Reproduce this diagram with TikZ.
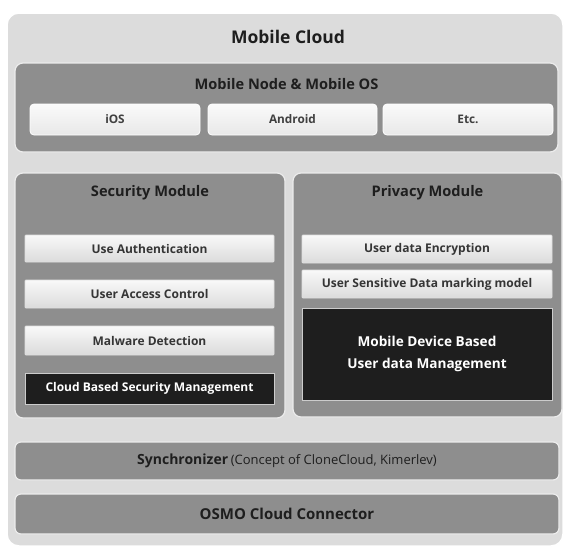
\documentclass[tikz,border=0pt]{standalone}
\usepackage{fontspec}
\setmainfont{Open Sans}
\usepackage{tikz}
\usetikzlibrary{positioning}
\definecolor{cloudgray}{HTML}{DCDCDC}
\definecolor{layergray}{HTML}{8E8E8E}
\definecolor{inkgray}{HTML}{1E1E1E}

\begin{document}
\begin{tikzpicture}[
		x=1pt, y=-1pt,
		cloud/.style={draw=white, line width=1.5pt, fill=cloudgray, rounded corners=12pt, inner sep=0pt},
		layer/.style={draw=gray!15, line width=1.2pt, fill=layergray, rounded corners=8pt, inner sep=0pt},
		osbox/.style={draw=white, line width=0.8pt, top color=gray!4, bottom color=gray!18, rounded corners=4pt,
			minimum width=170pt, minimum height=31pt, inner sep=0pt, font=\bfseries\fontsize{11.8}{13}\selectfont, text=inkgray!85},
		itembox/.style={draw=gray!25, line width=0.8pt, top color=gray!5, bottom color=gray!28, rounded corners=1pt,
			inner sep=0pt, font=\bfseries\fontsize{12}{14}\selectfont, text=inkgray!90},
		darkbox/.style={draw=gray!40, line width=0.8pt, fill=inkgray, text=white, inner sep=0pt},
		heading/.style={font=\bfseries\fontsize{14.6}{17}\selectfont, text=inkgray}
		]
		
		\useasboundingbox (0,0) rectangle (567,554);
		
		% --------------------------------------------------
		% Outer frame
		% --------------------------------------------------
		\node[cloud, minimum width=556pt, minimum height=533pt] (MC) at (285,279.5) {};
		\node[heading, font=\bfseries\fontsize{17.5}{20}\selectfont] (MCt) at (288,37) {Mobile Cloud};
		
		% --------------------------------------------------
		% Mobile node & OS
		% --------------------------------------------------
		\node[layer, minimum width=543pt, minimum height=89pt] (MN) at (286.5,107.5) {};
		\node[heading] (MNt) at (286.5,84) {Mobile Node \& Mobile OS};
		\node[osbox] (ios) at (115,119.5) {iOS};
		\node[osbox, minimum width=169pt] (android) at (292.5,119.5) {Android};
		\node[osbox] (etc) at (468,119.5) {Etc.};
		
		% --------------------------------------------------
		% Security module
		% --------------------------------------------------
		\node[layer, minimum width=270pt, minimum height=245pt] (SM) at (150,295.5) {};
		\node[heading] (SMt) at (150,193) {Security Module};
		\node[itembox, minimum width=249pt, minimum height=27pt] (auth) at (149.5,248.5) {Use Authentication};
		\node[itembox, minimum width=249pt, minimum height=28pt] (access) at (149.5,294) {User Access Control};
		\node[itembox, minimum width=249pt, minimum height=29pt] (malware) at (149.5,340.5) {Malware Detection};
		\node[darkbox, minimum width=249pt, minimum height=31pt, font=\bfseries\fontsize{12}{14}\selectfont] (secmgmt) at (149.5,388.5) {Cloud Based Security Management};
		
		% --------------------------------------------------
		% Privacy module
		% --------------------------------------------------
		\node[layer, minimum width=269pt, minimum height=244pt] (PM) at (427.5,295) {};
		\node[heading] (PMt) at (427.5,193) {Privacy Module};
		\node[itembox, minimum width=250pt, minimum height=28pt] (encrypt) at (427,249) {User data Encryption};
		\node[itembox, minimum width=250pt, minimum height=28pt] (marking) at (427,284) {User Sensitive Data marking model};
		\node[darkbox, minimum width=250pt, minimum height=92pt, align=center, font=\bfseries\fontsize{13.6}{22}\selectfont] (devmgmt) at (427,354) {Mobile Device Based\\User data Management};
		
		% --------------------------------------------------
		% Bottom layers
		% --------------------------------------------------
		\node[layer, rounded corners=6pt, minimum width=544pt, minimum height=38pt] (sync) at (287,461) {};
		\node[text=inkgray] (synct) at (287,461) {{\bfseries\fontsize{14}{16}\selectfont Synchronizer} {\fontsize{13}{15}\selectfont (Concept of CloneCloud, Kimerlev)}};
		\node[layer, rounded corners=6pt, minimum width=544pt, minimum height=40pt] (osmo) at (287,514) {};
		\node[heading, font=\bfseries\fontsize{15}{17}\selectfont] (osmot) at (287,514) {OSMO Cloud Connector};
		
	\end{tikzpicture}
\end{document}
